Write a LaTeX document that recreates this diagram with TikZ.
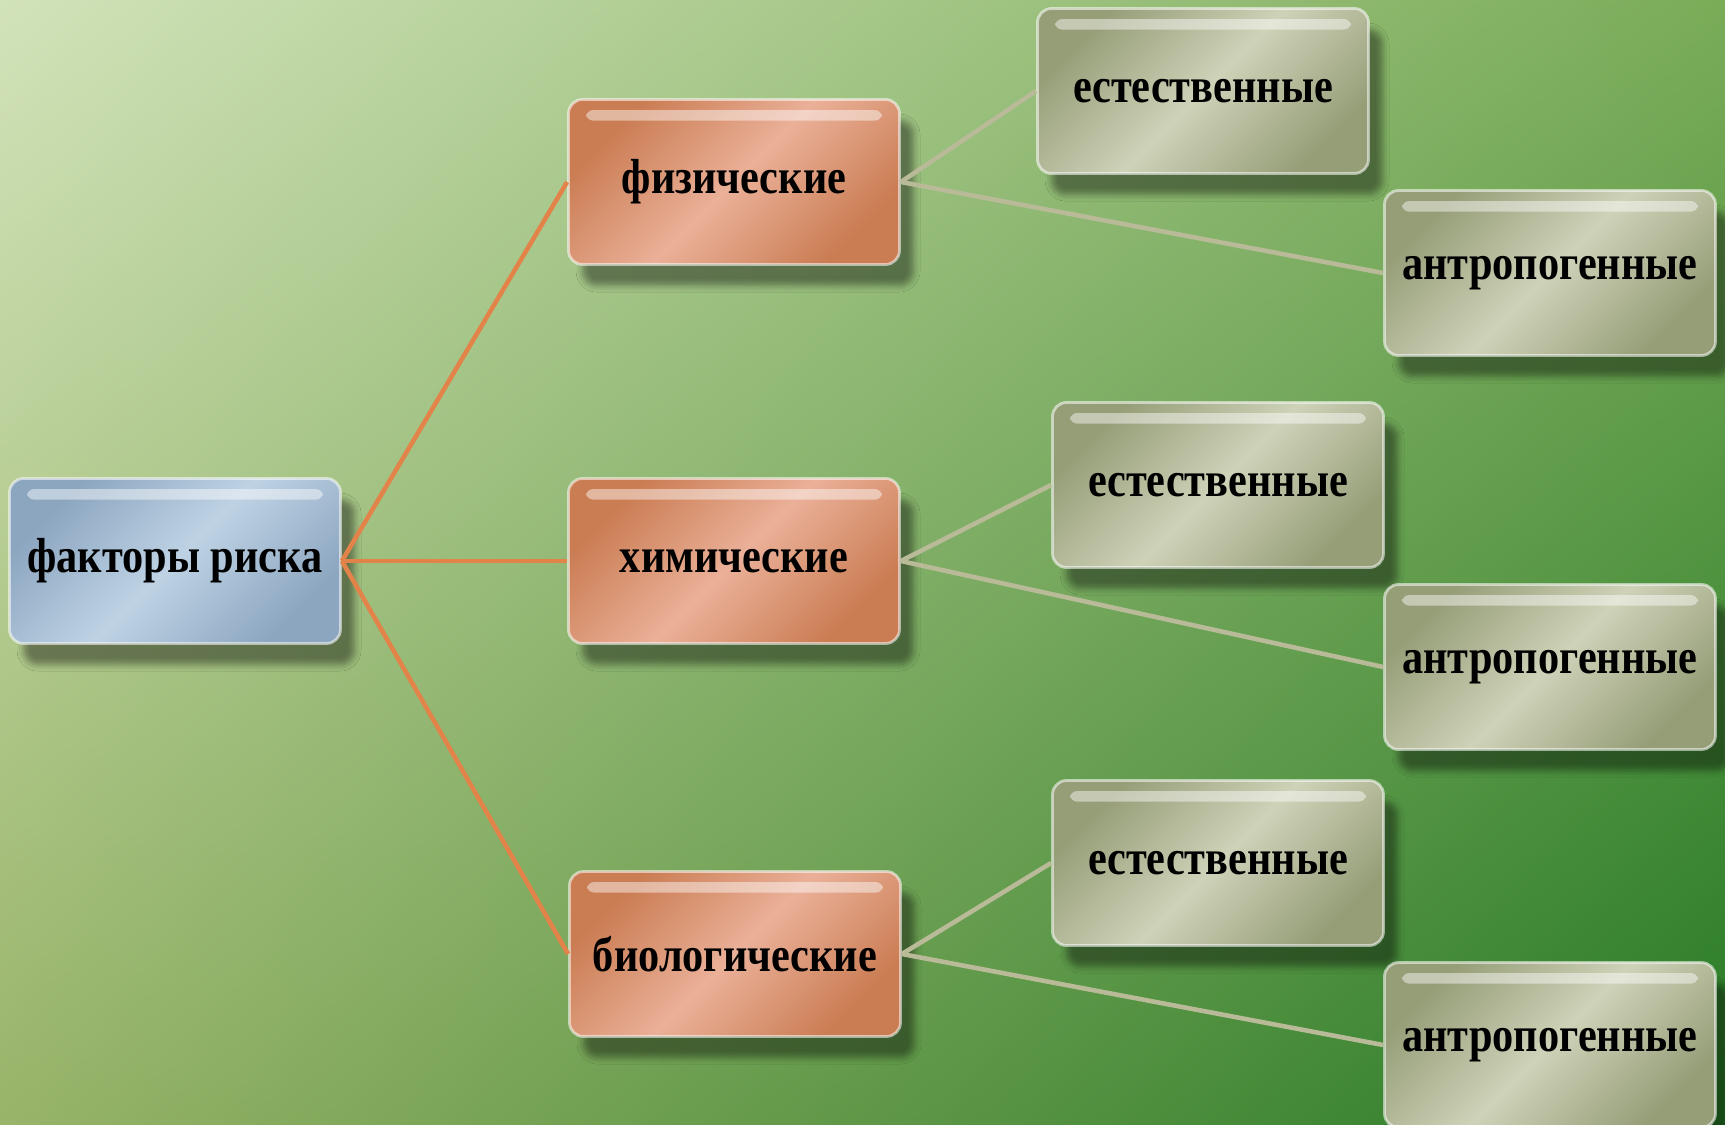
\documentclass[tikz,border=0pt]{standalone}
\usepackage{fontspec}
\setmainfont[FakeStretch=0.86]{Liberation Serif}
\usetikzlibrary{shadings,shadows.blur}

\definecolor{bgpale}{RGB}{210,227,186}
\definecolor{bgmidr}{RGB}{122,172,88}
\definecolor{bgmidl}{RGB}{152,180,104}
\definecolor{bgdark}{RGB}{38,122,38}
\definecolor{rootmid}{RGB}{190,210,228}
\definecolor{rootedge}{RGB}{140,166,192}
\definecolor{catmid}{RGB}{234,176,152}
\definecolor{catedge}{RGB}{202,124,82}
\definecolor{leafmid}{RGB}{206,210,184}
\definecolor{leafedge}{RGB}{150,158,120}
\definecolor{rootline}{RGB}{226,132,74}
\definecolor{leafline}{RGB}{184,186,152}

\tikzset{
    factorbox/.style={
        rounded corners=4pt, minimum width=3.31cm, minimum height=1.65cm,
        draw=white, draw opacity=0.55, line width=0.8pt, inner sep=2pt,
        font=\fontsize{14}{16}\selectfont\bfseries,
        blur shadow={shadow xshift=4pt, shadow yshift=-6pt, shadow opacity=40},
        path picture={
            \fill[white, opacity=0.45, rounded corners=2pt]
                ([xshift=5pt, yshift=-3pt]path picture bounding box.north west)
                rectangle
                ([xshift=-5pt, yshift=-6pt]path picture bounding box.north east);
        }
    },
    rootbox/.style={factorbox, left color=rootedge, right color=rootedge,
        middle color=rootmid, shading angle=45},
    catbox/.style={factorbox, left color=catedge, right color=catedge,
        middle color=catmid, shading angle=45},
    leafbox/.style={factorbox, left color=leafedge, right color=leafedge,
        middle color=leafmid, shading angle=45},
    rootlink/.style={rootline, line width=1.3pt},
    leaflink/.style={leafline, line width=1.3pt}
}

\begin{document}
\begin{tikzpicture}
    % Background
    \useasboundingbox (0,0) rectangle (17.25,11.25);
    \shade[upper left=bgpale, upper right=bgmidr, lower left=bgmidl, lower right=bgdark]
        (0,0) rectangle (17.25,11.25);

    % Root and categories
    \node[rootbox] (root) at (1.75, 5.64) {факторы риска};
    \node[catbox] (fiz) at (7.34, 9.43) {физические};
    \node[catbox] (him) at (7.34, 5.64) {химические};
    \node[catbox] (bio) at (7.35, 1.71) {биологические};

    \foreach \cat in {fiz, him, bio} {
        \draw[rootlink] (root.east) -- (\cat.west);
    }

    % Leaves: {category}/{x of first}/{y of first}/{y of second}
    \foreach \cat/\ex/\ey/\ay in {
        fiz/12.03/10.34/8.52,
        him/12.18/6.40/4.58,
        bio/12.18/2.62/0.80
    } {
        \node[leafbox] (est-\cat) at (\ex, \ey) {естественные};
        \node[leafbox] (ant-\cat) at (15.50, \ay) {антропогенные};
        \draw[leaflink] (\cat.east) -- (est-\cat.west);
        \draw[leaflink] (\cat.east) -- (ant-\cat.west);
    }
\end{tikzpicture}
\end{document}
